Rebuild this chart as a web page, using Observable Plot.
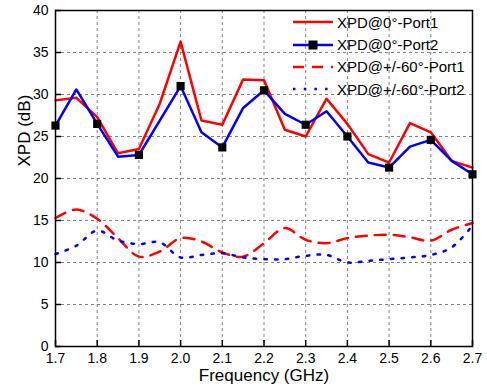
<!DOCTYPE html>
<html>
<head>
<meta charset="utf-8">
<script src="https://cdn.jsdelivr.net/npm/d3@7"></script>
<script src="https://cdn.jsdelivr.net/npm/@observablehq/plot@0.6"></script>
<style>
  html, body { margin: 0; padding: 0; background: #fff; }
  #wrap { position: relative; width: 487px; height: 388px; font-family: Arial, "Liberation Sans", sans-serif; }
  #legend { position: absolute; left: 293px; top: 11px; }
  .row { display: flex; align-items: center; height: 22.4px; font-size: 15px; color: #000; }
  .row svg { margin-right: 4px; }
</style>
</head>
<body>
<div id="wrap"><div id="legend"></div></div>
<script>
const freq = [1.70,1.75,1.80,1.85,1.90,1.95,2.00,2.05,2.10,2.15,2.20,2.25,2.30,2.35,2.40,2.45,2.50,2.55,2.60,2.65,2.70];
const p1_0   = [29.3,29.6,27.3,23.0,23.5,28.9,36.3,26.9,26.4,31.8,31.7,25.8,25.0,29.5,26.5,22.9,21.9,26.6,25.5,22.1,21.3];
const p2_0   = [26.3,30.6,26.5,22.6,22.8,26.9,31.0,25.5,23.7,28.4,30.5,27.7,26.4,28.0,25.0,21.9,21.3,23.8,24.6,22.1,20.5];
const p1_60  = [15.3,16.3,15.2,12.9,10.7,11.3,12.9,12.5,11.2,10.7,12.3,14.1,12.7,12.3,12.9,13.2,13.3,13.0,12.6,13.9,14.7];
const p2_60  = [11.0,12.0,13.8,12.6,12.2,12.4,10.6,10.9,11.1,10.6,10.4,10.4,10.8,10.9,10.0,10.2,10.4,10.6,10.9,11.8,14.4];
const xTicks = [1.7,1.8,1.9,2.0,2.1,2.2,2.3,2.4,2.5,2.6,2.7];
const yTicks = [0,5,10,15,20,25,30,35,40];
const seriesNames = ["XPD@0°-Port1","XPD@0°-Port2","XPD@+/-60°-Port1","XPD@+/-60°-Port2"];

const rows = (vals) => freq.map((f,i) => ({f, v: vals[i]}));
const markerRows = rows(p2_0).filter(d => xTicks.some(t => Math.abs(t - d.f) < 1e-9));

const font = 'Arial, "Liberation Sans", sans-serif';

const chart = Plot.plot({
  width: 487,
  height: 388,
  marginLeft: 55,
  marginRight: 15,
  marginTop: 10,
  marginBottom: 42,
  style: { fontFamily: font, background: "white", color: "black" },
  x: { domain: [1.7, 2.7], label: null },
  y: { domain: [0, 40], label: null },
  marks: [
    Plot.gridX(xTicks, { stroke: "#808080", strokeOpacity: 1, strokeDasharray: "3,3", strokeWidth: 1 }),
    Plot.gridY(yTicks, { stroke: "#808080", strokeOpacity: 1, strokeDasharray: "3,3", strokeWidth: 1 }),
    Plot.axisX(xTicks, { tickSize: 0, tickPadding: 7, tickFormat: d3.format(".1f"), fontSize: 14, label: null }),
    Plot.axisX(xTicks, { tickSize: -6, text: null, strokeWidth: 1.5, label: null }),
    Plot.axisY(yTicks, { tickSize: 0, tickPadding: 7, fontSize: 14, label: null }),
    Plot.axisY(yTicks, { tickSize: -6, text: null, strokeWidth: 1.5, label: null }),
    Plot.text(["Frequency (GHz)"], { frameAnchor: "bottom", dy: 29, fontSize: 17, lineAnchor: "middle" }),
    Plot.text(["XPD (dB)"], { frameAnchor: "left", dx: -31, dy: -12, rotate: -90, fontSize: 17, lineAnchor: "middle" }),
    Plot.line(rows(p1_60), { x: "f", y: "v", stroke: "#ff0000", strokeWidth: 2.5, strokeDasharray: "11,8", curve: "catmull-rom" }),
    Plot.line(rows(p2_60), { x: "f", y: "v", stroke: "#0000ff", strokeWidth: 2.5, strokeDasharray: "2.5,8.2", curve: "catmull-rom" }),
    Plot.line(rows(p1_0), { x: "f", y: "v", stroke: "#ff0000", strokeWidth: 2.5 }),
    Plot.line(rows(p2_0), { x: "f", y: "v", stroke: "#0000ff", strokeWidth: 2.5 }),
    Plot.dot(markerRows, { x: "f", y: "v", symbol: "square", r: 4.6, fill: "black", stroke: "none" }),
    Plot.frame({ stroke: "black", strokeWidth: 1.5 })
  ]
});
document.getElementById("wrap").prepend(chart);

// legend
const styles = [
  { stroke: "#ff0000", dash: null, marker: false },
  { stroke: "#0000ff", dash: null, marker: true },
  { stroke: "#ff0000", dash: "11,8", marker: false },
  { stroke: "#0000ff", dash: "2.5,8.2", marker: false }
];
const legend = document.getElementById("legend");
seriesNames.forEach((name, i) => {
  const s = styles[i];
  const row = document.createElement("div");
  row.className = "row";
  const svg = d3.create("svg").attr("width", 40).attr("height", 12);
  svg.append("line").attr("x1", 0).attr("x2", 40).attr("y1", 6).attr("y2", 6)
    .attr("stroke", s.stroke).attr("stroke-width", 2.5)
    .attr("stroke-dasharray", s.dash);
  if (s.marker) svg.append("rect").attr("x", 15.5).attr("y", 1.5).attr("width", 9).attr("height", 9).attr("fill", "black");
  row.appendChild(svg.node());
  const span = document.createElement("span");
  span.textContent = name;
  row.appendChild(span);
  legend.appendChild(row);
});
</script>
</body>
</html>
